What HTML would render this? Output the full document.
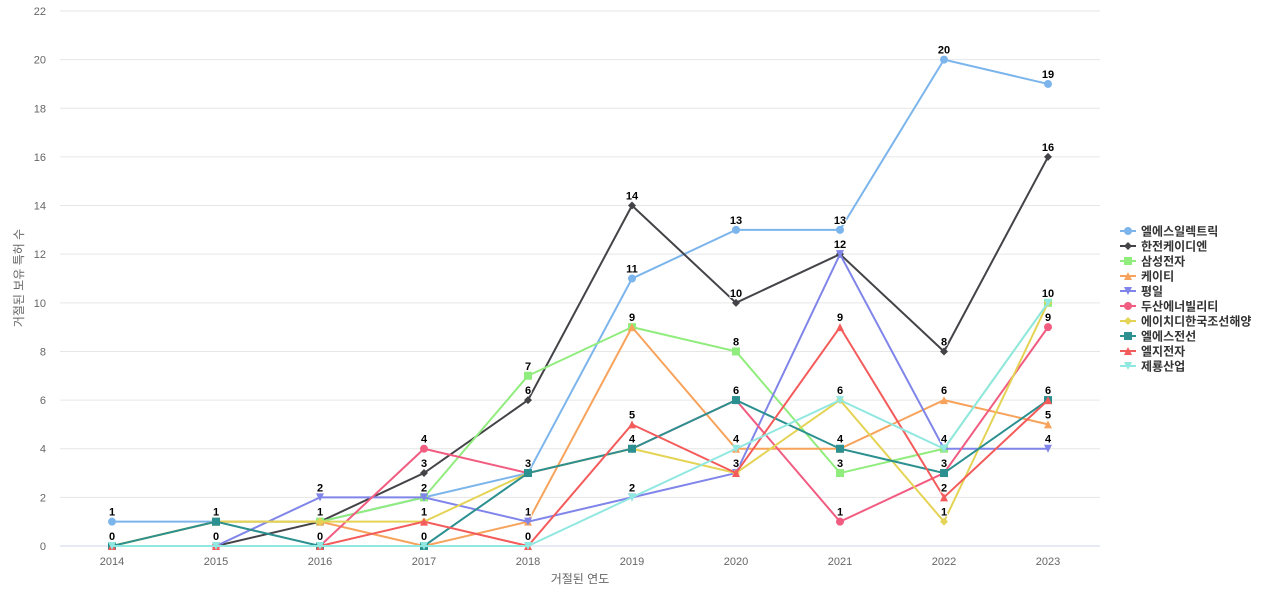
<!DOCTYPE html>
<html><head><meta charset="utf-8">
<style>
html,body{margin:0;padding:0;background:#fff;}
svg{display:block;font-family:"Liberation Sans","Noto Sans CJK KR",sans-serif;}
</style></head>
<body>
<svg id="chart" width="1280" height="600">
  <g id="grid"></g>
  <g id="yaxis"></g>
  <g id="xaxis"></g>
  <text transform="translate(23,278) rotate(-90)" text-anchor="middle" font-size="12" fill="#666">거절된 보유 특허 수</text>
  <text x="580" y="583" text-anchor="middle" font-size="12" fill="#666">거절된 연도</text>
  <g id="series"></g>
  <g id="labels"></g>
  <g id="legend"></g>
</svg>
<script>
const categories = [2014,2015,2016,2017,2018,2019,2020,2021,2022,2023];
const seriesNames = ["엘에스일렉트릭","한전케이디엔","삼성전자","케이티","평일","두산에너빌리티","에이치디한국조선해양","엘에스전선","엘지전자","제룡산업"];
const sLsElectric = [1,1,1,2,3,11,13,13,20,19];
const sKdn = [0,0,1,3,6,14,10,12,8,16];
const sSamsung = [0,1,1,2,7,9,8,3,4,10];
const sKt = [0,1,1,0,1,9,4,4,6,5];
const sPyeongil = [0,0,2,2,1,2,3,12,4,4];
const sDoosan = [0,0,0,4,3,4,6,1,3,9];
const sHdKsoe = [0,1,1,1,3,4,3,6,1,10];
const sLsCable = [0,1,0,0,3,4,6,4,3,6];
const sLg = [0,0,0,1,0,5,3,9,2,6];
const sJeryong = [0,0,0,0,0,2,4,6,4,10];
const yTicks = [0,2,4,6,8,10,12,14,16,18,20,22];

const seriesData = [sLsElectric,sKdn,sSamsung,sKt,sPyeongil,sDoosan,sHdKsoe,sLsCable,sLg,sJeryong];
const colors = ["#7cb5ec","#434348","#90ed7d","#f7a35c","#8085e9","#f15c80","#e4d354","#2b908f","#f45b5b","#91e8e1"];
const symbols = ["circle","diamond","square","triangle","triangle-down","circle","diamond","square","triangle","triangle-down"];
const NS = "http://www.w3.org/2000/svg";
const L=60,R=1100,T=11,B=546,yMax=22;
const xScale = i => L + (R-L)/categories.length*(i+0.5);
const yScale = v => B - (B-T)*v/yMax;
function mk(tag,attrs,parent){const e=document.createElementNS(NS,tag);for(const k in attrs)e.setAttribute(k,attrs[k]);parent.appendChild(e);return e;}

const grid=document.getElementById('grid'), yaxis=document.getElementById('yaxis'), xaxis=document.getElementById('xaxis');
yTicks.forEach(t=>{
  const y=yScale(t);
  const gl=mk('line',{x1:L,x2:R,y1:y,y2:y,stroke:t===0?'#ccd6eb':'#e6e6e6','stroke-width':1},grid);
  
  
  const tx=mk('text',{x:46,y:y+4,'text-anchor':'end','font-size':11,fill:'#666'},yaxis);
  tx.textContent=t;
  
  
});
categories.forEach((c,i)=>{
  const tx=mk('text',{x:xScale(i),y:565,'text-anchor':'middle','font-size':11,fill:'#666'},xaxis);
  tx.textContent=c;
  
  
});

function marker(sym,x,y,color,parent,s){
  s=s||4;
  let e;
  if(sym==='circle') e=mk('circle',{cx:x,cy:y,r:s,fill:color},parent);
  else if(sym==='square') e=mk('rect',{x:x-s,y:y-s,width:2*s,height:2*s,fill:color},parent);
  else if(sym==='diamond') e=mk('path',{d:`M${x} ${y-s}L${x+s} ${y}L${x} ${y+s}L${x-s} ${y}Z`,fill:color},parent);
  else if(sym==='triangle') e=mk('path',{d:`M${x} ${y-s}L${x+s} ${y+s}L${x-s} ${y+s}Z`,fill:color},parent);
  else e=mk('path',{d:`M${x-s} ${y-s}L${x+s} ${y-s}L${x} ${y+s}Z`,fill:color},parent);
  return e;
}

const sg=document.getElementById('series'), lg=document.getElementById('labels');
const boxes=[];
seriesData.forEach((arr,si)=>{
  const g=mk('g',{},sg);
  
  
  const pts=arr.map((v,i)=>xScale(i)+','+yScale(v)).join(' ');
  const pl=mk('polyline',{points:pts,fill:'none',stroke:colors[si],'stroke-width':2},g);
  
  
  arr.forEach((v,i)=>{
    const m=marker(symbols[si],xScale(i),yScale(v),colors[si],g);
    
    
    const lx=xScale(i), ly=yScale(v)-6;
    const w=String(v).length*7+2, h=13;
    const box={x1:lx-w/2,x2:lx+w/2,y1:ly-h+2,y2:ly+2};
    if(!boxes.some(b=>b.x1<box.x2&&box.x1<b.x2&&b.y1<box.y2&&box.y1<b.y2)){
      boxes.push(box);
      const t=mk('text',{x:lx,y:ly,'text-anchor':'middle','font-size':11,'font-weight':'bold',fill:'#000',stroke:'#fff','stroke-width':2,'paint-order':'stroke'},lg);
      t.textContent=v;
      
      
    }
  });
});

const leg=document.getElementById('legend');
seriesNames.forEach((n,si)=>{
  const y=231+si*15;
  const g=mk('g',{},leg);
  
  
  mk('line',{x1:1120,x2:1136,y1:y,y2:y,stroke:colors[si],'stroke-width':2},g);
  marker(symbols[si],1128,y,colors[si],g,4);
  const t=mk('text',{x:1141,y:y+4.5,'font-size':12,'font-weight':'bold',fill:'#333'},g);
  t.textContent=n;
});
</script>
</body></html>
